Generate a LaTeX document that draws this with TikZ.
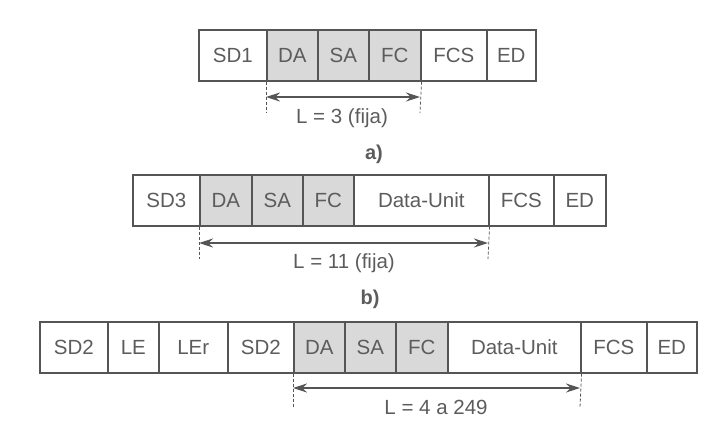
\documentclass[tikz,border=0pt]{standalone}
\usepackage{fontspec}
\setmainfont{Liberation Sans}
\usetikzlibrary{arrows.meta}
\definecolor{ink}{HTML}{555555}
\definecolor{txt}{HTML}{5C5C5C}
\definecolor{shade}{HTML}{D9D9D9}
\tikzset{
  fld/.style={draw=ink, line width=1.6pt, rectangle, inner sep=0pt, anchor=north west,
    minimum height=51pt, text=txt, font=\fontsize{20.5}{20.5}\selectfont},
  grey/.style={fill=shade},
  guide/.style={draw=ink, line width=0.8pt, dash pattern=on 3pt off 2pt},
  dim/.style={draw=ink, line width=1.1pt, {Stealth[length=14pt,width=9pt]}-{Stealth[length=14pt,width=9pt]}},
  lbl/.style={text=txt, font=\fontsize{20.5}{20.5}\selectfont, inner sep=0pt},
  sublabel/.style={text=txt, font=\bfseries\fontsize{20}{20}\selectfont, inner sep=0pt}
}
\newcommand{\fieldbox}[6]{%
  \pgfmathsetlengthmacro{\fbw}{(#3-#2)*1pt}%
  \node[fld,#6, minimum width=\fbw] (#1) at (#2,#4) {#5};}
\begin{document}
\begin{tikzpicture}[x=1pt,y=-1pt]
\useasboundingbox (0,0) rectangle (704,424);
% Row a
\fieldbox{aSD}{198}{266}{29}{SD1}{}
\fieldbox{aDA}{266}{317}{29}{DA}{grey}
\fieldbox{aSA}{317}{368}{29}{SA}{grey}
\fieldbox{aFC}{368}{420}{29}{FC}{grey}
\fieldbox{aFCS}{420}{486}{29}{FCS}{}
\fieldbox{aED}{486}{535}{29}{ED}{}
\coordinate (aL) at (266,113);
\coordinate (aR) at (420,113);
\draw[guide] (aDA.south west) -- (aL);
\draw[guide] (aFC.south east) -- (aR);
\coordinate (aAL) at (266,97);
\coordinate (aAR) at (420,97);
\draw[dim] (aAL) -- (aAR);
\node[lbl] (aLbl) at (342,118) {L = 3 (fija)};
\node[sublabel] (aCap) at (374,154) {a)};
% Row b
\fieldbox{bSD}{132}{199}{174}{SD3}{}
\fieldbox{bDA}{199}{251}{174}{DA}{grey}
\fieldbox{bSA}{251}{302}{174}{SA}{grey}
\fieldbox{bFC}{302}{353}{174}{FC}{grey}
\fieldbox{bDU}{353}{488}{174}{Data-Unit}{}
\fieldbox{bFCS}{488}{553}{174}{FCS}{}
\fieldbox{bED}{553}{605}{174}{ED}{}
\coordinate (bL) at (199,259);
\coordinate (bR) at (488,259);
\draw[guide] (bDA.south west) -- (bL);
\draw[guide] (bDU.south east) -- (bR);
\coordinate (bAL) at (199,243);
\coordinate (bAR) at (488,243);
\draw[dim] (bAL) -- (bAR);
\node[lbl] (bLbl) at (344,263) {L = 11 (fija)};
\node[sublabel] (bCap) at (370,299) {b)};
% Row c
\fieldbox{cSD}{39}{107}{321}{SD2}{}
\fieldbox{cLE}{107}{158}{321}{LE}{}
\fieldbox{cLEr}{158}{227}{321}{LEr}{}
\fieldbox{cSDb}{227}{293}{321}{SD2}{}
\fieldbox{cDA}{293}{344}{321}{DA}{grey}
\fieldbox{cSA}{344}{395}{321}{SA}{grey}
\fieldbox{cFC}{395}{447}{321}{FC}{grey}
\fieldbox{cDU}{447}{580}{321}{Data-Unit}{}
\fieldbox{cFCS}{580}{646}{321}{FCS}{}
\fieldbox{cED}{646}{696}{321}{ED}{}
\coordinate (cL) at (293,407);
\coordinate (cR) at (580,407);
\draw[guide] (cDA.south west) -- (cL);
\draw[guide] (cDU.south east) -- (cR);
\coordinate (cAL) at (293,388);
\coordinate (cAR) at (580,388);
\draw[dim] (cAL) -- (cAR);
\node[lbl] (cLbl) at (436,407) {L = 4 a 249};
\end{tikzpicture}
\end{document}
